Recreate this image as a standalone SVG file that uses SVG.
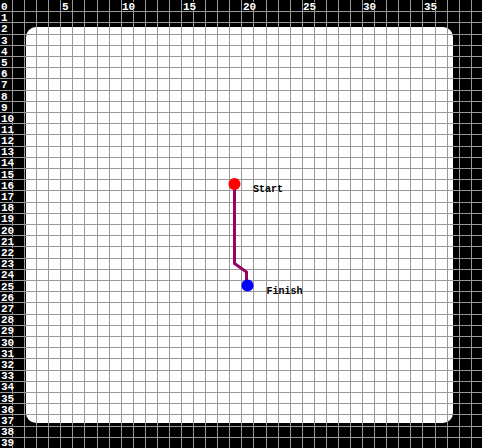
<svg xmlns="http://www.w3.org/2000/svg" width="482" height="448" viewBox="0 0 482 448">
<style>
.grid{stroke:#999;stroke-width:1;fill:none}
.lbl{font-family:"Liberation Mono","DejaVu Sans Mono",monospace;font-size:11px;font-weight:bold;fill:#fff}
.lbg{fill:#000}
.ntxt{font-family:"Liberation Mono","DejaVu Sans Mono",monospace;font-size:10px;font-weight:bold;fill:#000}
.conn{stroke:#990066;stroke-width:3;fill:none;stroke-linejoin:miter}
</style>
<rect x="0" y="0" width="482" height="448" fill="#000"/>
<rect x="26" y="27" width="427" height="396" rx="10" ry="10" fill="#fff"/>
<path class="grid" d="M12.5,0V448M24.5,0V448M36.5,0V448M48.5,0V448M60.5,0V448M72.5,0V448M84.5,0V448M97.5,0V448M109.5,0V448M121.5,0V448M133.5,0V448M145.5,0V448M157.5,0V448M169.5,0V448M181.5,0V448M193.5,0V448M205.5,0V448M217.5,0V448M229.5,0V448M241.5,0V448M253.5,0V448M266.5,0V448M278.5,0V448M290.5,0V448M302.5,0V448M314.5,0V448M326.5,0V448M338.5,0V448M350.5,0V448M362.5,0V448M374.5,0V448M386.5,0V448M398.5,0V448M410.5,0V448M422.5,0V448M435.5,0V448M447.5,0V448M459.5,0V448M471.5,0V448"/>
<path class="grid" d="M0,11.5H482M0,22.5H482M0,34.5H482M0,45.5H482M0,56.5H482M0,67.5H482M0,78.5H482M0,90.5H482M0,101.5H482M0,112.5H482M0,123.5H482M0,134.5H482M0,146.5H482M0,157.5H482M0,168.5H482M0,179.5H482M0,190.5H482M0,202.5H482M0,213.5H482M0,224.5H482M0,235.5H482M0,246.5H482M0,258.5H482M0,269.5H482M0,280.5H482M0,291.5H482M0,302.5H482M0,314.5H482M0,325.5H482M0,336.5H482M0,347.5H482M0,358.5H482M0,370.5H482M0,381.5H482M0,392.5H482M0,403.5H482M0,414.5H482M0,426.5H482M0,437.5H482"/>
<g id="axis-labels">
<rect class="lbg" x="62" y="2" width="7" height="8"/><rect class="lbg" x="122" y="2" width="13" height="8"/><rect class="lbg" x="183" y="2" width="13" height="8"/><rect class="lbg" x="243" y="2" width="13" height="8"/><rect class="lbg" x="303" y="2" width="13" height="8"/><rect class="lbg" x="363" y="2" width="13" height="8"/><rect class="lbg" x="424" y="2" width="13" height="8"/>
<text class="lbl" x="62" y="10">5</text><text class="lbl" x="122" y="10">10</text><text class="lbl" x="183" y="10">15</text><text class="lbl" x="243" y="10">20</text><text class="lbl" x="303" y="10">25</text><text class="lbl" x="363" y="10">30</text><text class="lbl" x="424" y="10">35</text>
<g>
<rect class="lbg" x="1" y="114" width="14" height="8"/><rect class="lbg" x="1" y="125" width="14" height="8"/><rect class="lbg" x="1" y="136" width="14" height="8"/><rect class="lbg" x="1" y="147" width="14" height="8"/><rect class="lbg" x="1" y="158" width="14" height="8"/><rect class="lbg" x="1" y="170" width="14" height="8"/><rect class="lbg" x="1" y="181" width="14" height="8"/><rect class="lbg" x="1" y="192" width="14" height="8"/><rect class="lbg" x="1" y="203" width="14" height="8"/><rect class="lbg" x="1" y="214" width="14" height="8"/><rect class="lbg" x="1" y="226" width="14" height="8"/><rect class="lbg" x="1" y="237" width="14" height="8"/><rect class="lbg" x="1" y="248" width="14" height="8"/><rect class="lbg" x="1" y="259" width="14" height="8"/><rect class="lbg" x="1" y="270" width="14" height="8"/><rect class="lbg" x="1" y="282" width="14" height="8"/><rect class="lbg" x="1" y="293" width="14" height="8"/><rect class="lbg" x="1" y="304" width="14" height="8"/><rect class="lbg" x="1" y="315" width="14" height="8"/><rect class="lbg" x="1" y="326" width="14" height="8"/><rect class="lbg" x="1" y="338" width="14" height="8"/><rect class="lbg" x="1" y="349" width="14" height="8"/><rect class="lbg" x="1" y="360" width="14" height="8"/><rect class="lbg" x="1" y="371" width="14" height="8"/><rect class="lbg" x="1" y="382" width="14" height="8"/><rect class="lbg" x="1" y="394" width="14" height="8"/><rect class="lbg" x="1" y="405" width="14" height="8"/><rect class="lbg" x="1" y="416" width="14" height="8"/><rect class="lbg" x="1" y="427" width="14" height="8"/><rect class="lbg" x="1" y="438" width="14" height="8"/>
</g>
<text class="lbl" x="1" y="10">0</text>
<text class="lbl" x="1" y="21">1</text>
<text class="lbl" x="1" y="32">2</text>
<text class="lbl" x="1" y="44">3</text>
<text class="lbl" x="1" y="55">4</text>
<text class="lbl" x="1" y="66">5</text>
<text class="lbl" x="1" y="77">6</text>
<text class="lbl" x="1" y="88">7</text>
<text class="lbl" x="1" y="100">8</text>
<text class="lbl" x="1" y="111">9</text>
<text class="lbl" x="1" y="122">10</text>
<text class="lbl" x="1" y="133">11</text>
<text class="lbl" x="1" y="144">12</text>
<text class="lbl" x="1" y="155">13</text>
<text class="lbl" x="1" y="166">14</text>
<text class="lbl" x="1" y="178">15</text>
<text class="lbl" x="1" y="189">16</text>
<text class="lbl" x="1" y="200">17</text>
<text class="lbl" x="1" y="211">18</text>
<text class="lbl" x="1" y="222">19</text>
<text class="lbl" x="1" y="234">20</text>
<text class="lbl" x="1" y="245">21</text>
<text class="lbl" x="1" y="256">22</text>
<text class="lbl" x="1" y="267">23</text>
<text class="lbl" x="1" y="278">24</text>
<text class="lbl" x="1" y="290">25</text>
<text class="lbl" x="1" y="301">26</text>
<text class="lbl" x="1" y="312">27</text>
<text class="lbl" x="1" y="323">28</text>
<text class="lbl" x="1" y="334">29</text>
<text class="lbl" x="1" y="346">30</text>
<text class="lbl" x="1" y="357">31</text>
<text class="lbl" x="1" y="368">32</text>
<text class="lbl" x="1" y="379">33</text>
<text class="lbl" x="1" y="390">34</text>
<text class="lbl" x="1" y="402">35</text>
<text class="lbl" x="1" y="413">36</text>
<text class="lbl" x="1" y="424">37</text>
<text class="lbl" x="1" y="435">38</text>
<text class="lbl" x="1" y="446">39</text>
</g>
<g id="connectors">
<path class="conn" d="M234.5,184V263.5L246.5,272V285"/>
</g>
<g id="start">
<circle cx="234.5" cy="184" r="6" fill="#ff0000"/>
<text class="ntxt" x="253" y="192">Start</text>
</g>
<g id="finish">
<circle cx="247.5" cy="285.5" r="6" fill="#0000ff"/>
<text class="ntxt" x="266.5" y="294">Finish</text>
</g>
</svg>
